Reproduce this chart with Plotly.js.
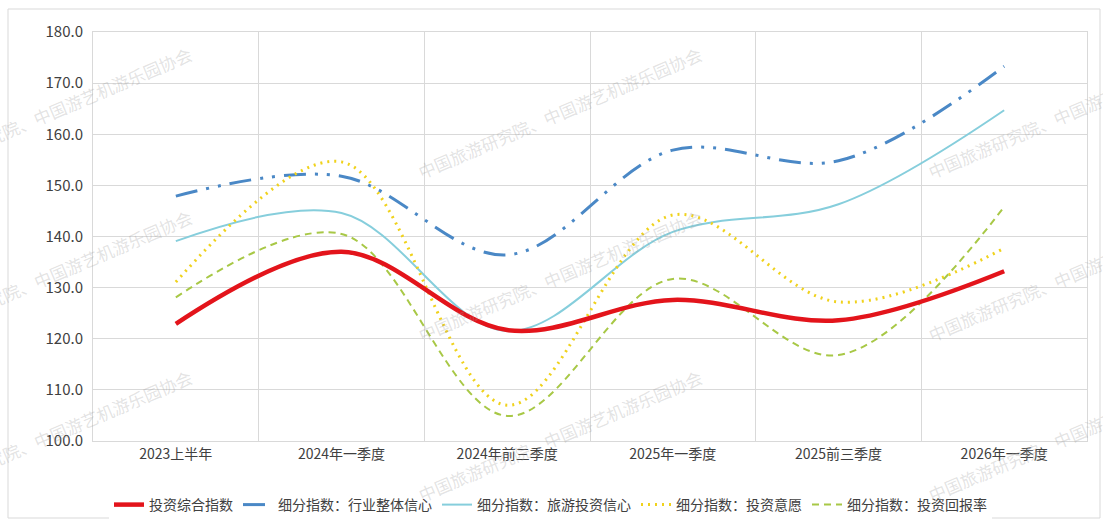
<!DOCTYPE html>
<html>
<head>
<meta charset="utf-8">
<script src="https://cdn.plot.ly/plotly-3.0.1.min.js"></script>
<style>
  html, body { margin: 0; padding: 0; background: #fff; }
  #chart { width: 1103px; height: 522px; }
</style>
</head>
<body>
<div id="chart"></div>
<script>
// Periods on the x axis
const periods = ['2023上半年', '2024年一季度', '2024年前三季度', '2025年一季度', '2025前三季度', '2026年一季度'];

// Index series
const compositeIndex     = [122.9, 137.0, 121.7, 127.6, 123.6, 133.2];
const industryConfidence = [147.9, 151.8, 136.4, 156.9, 154.8, 173.3];
const tourismConfidence  = [139.1, 144.6, 121.5, 140.9, 146.3, 164.7];
const investIntention    = [131.1, 154.6, 107.0, 144.2, 127.2, 137.7];
const investReturn       = [128.1, 140.5, 104.9, 131.7, 116.8, 145.8];

const seriesNames = [
  '投资综合指数',
  '细分指数：行业整体信心',
  '细分指数：旅游投资信心',
  '细分指数：投资意愿',
  '细分指数：投资回报率'
];

const yTicks = [100, 110, 120, 130, 140, 150, 160, 170, 180];

const FONT = '"Noto Sans CJK SC", "Noto Sans", sans-serif';

function trace(y, name, color, width, dash, rank) {
  return {
    type: 'scatter', mode: 'lines',
    x: periods, y: y, name: name, legendrank: rank,
    line: { color: color, width: width, dash: dash, shape: 'spline', smoothing: 1 },
    hoverinfo: 'x+y+name'
  };
}

// Drawn back-to-front so the composite line sits on top
const data = [
  trace(industryConfidence, seriesNames[1], '#4a88c6', 3, '22px,9px,3px,9px,3px,9px', 2),
  trace(tourismConfidence,  seriesNames[2], '#86cedc', 2, 'solid', 3),
  trace(investIntention,    seriesNames[3], '#f0d21c', 3, '2px,5px', 4),
  trace(investReturn,       seriesNames[4], '#a8c846', 2, '7px,5px', 5),
  trace(compositeIndex,     seriesNames[0], '#e3141b', 4.5, 'solid', 1)
];

// Plot-area geometry in pixels, used to place the watermark text and legend
const PL = 93, PR = 1087, PT = 32, PB = 441;
const px2x = px => (px - PL) / (PR - PL);
const px2y = py => (PB - py) / (PB - PT);

const watermarkText = '中国旅游研究院、中国游艺机游乐园协会';
const wmCenters = [];
[50, 560, 1070].forEach(cx => [113, 275, 435].forEach(cy => wmCenters.push([cx, cy])));
const annotations = wmCenters.map(([cx, cy]) => ({
  xref: 'paper', yref: 'paper', x: px2x(cx), y: px2y(cy),
  xanchor: 'center', yanchor: 'middle',
  text: watermarkText, showarrow: false, textangle: -23,
  font: { family: FONT, size: 17, color: 'rgba(160,160,160,0.30)' }
}));

const layout = {
  width: 1103, height: 522,
  margin: { l: PL, r: 1103 - PR, t: PT, b: 522 - PB, autoexpand: false },
  paper_bgcolor: '#ffffff', plot_bgcolor: '#ffffff',
  font: { family: FONT, color: '#595959', size: 13 },
  showlegend: true,
  legend: {
    orientation: 'h', x: px2x(109), xanchor: 'left', y: px2y(505), yanchor: 'middle',
    font: { family: FONT, size: 14, color: '#404040' },
    traceorder: 'normal', itemwidth: 30
  },
  xaxis: {
    type: 'category', range: [-0.5, periods.length - 0.5],
    tickson: 'boundaries', showgrid: true, gridcolor: '#d9d9d9', gridwidth: 1,
    ticks: '', showline: true, linecolor: '#d9d9d9', mirror: true,
    tickfont: { family: FONT, size: 14, color: '#404040' },
    fixedrange: true
  },
  yaxis: {
    range: [100, 180], tickvals: yTicks, tickformat: '.1f',
    showgrid: true, gridcolor: '#d9d9d9', gridwidth: 1, zeroline: false,
    showline: true, linecolor: '#d9d9d9', mirror: true, ticks: '',
    tickfont: { family: FONT, size: 15, color: '#404040' },
    ticklabelstandoff: 6, fixedrange: true
  },
  shapes: [{
    type: 'rect', xref: 'paper', yref: 'paper', layer: 'below',
    x0: px2x(8), x1: px2x(1100), y0: px2y(518), y1: px2y(9),
    line: { color: '#d9d9d9', width: 1 }, fillcolor: 'rgba(0,0,0,0)'
  }],
  annotations: annotations
};

Plotly.newPlot('chart', data, layout, { displayModeBar: false, staticPlot: true });
</script>
</body>
</html>
